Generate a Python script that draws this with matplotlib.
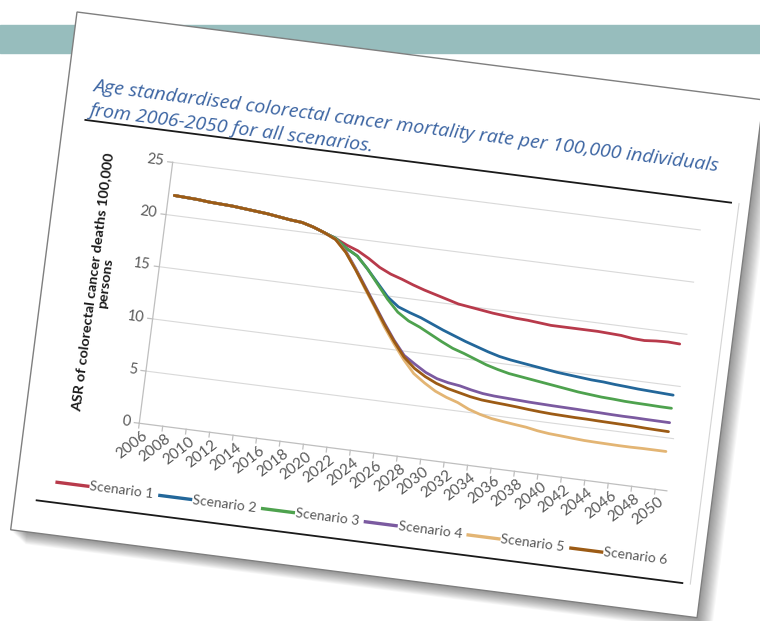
import numpy as np
import matplotlib.pyplot as plt
from matplotlib.patches import Rectangle
from matplotlib.transforms import Affine2D


years = list(range(2006, 2051))
tick_years = years[::2]
y_ticks = [0, 5, 10, 15, 20, 25]

# ASR per 100,000 (2006..2050)
early = [21.9, 21.85, 21.8, 21.7, 21.65, 21.6, 21.5, 21.4, 21.3, 21.15, 21.0, 20.9, 20.6, 20.2]
scenario_1 = early + [19.8, 19.3, 18.9, 18.3, 17.6, 17.1, 16.75, 16.35, 16.0, 15.7, 15.4, 15.1,
                      14.95, 14.8, 14.65, 14.55, 14.45, 14.4, 14.3, 14.2, 14.2, 14.2, 14.2, 14.2,
                      14.15, 14.1, 13.95, 13.9, 14.0, 14.05, 14.0]
scenario_2 = early + [19.8, 19.0, 18.4, 17.3, 16.1, 14.9, 14.1, 13.7, 13.35, 12.9, 12.45, 12.05,
                      11.65, 11.3, 10.95, 10.65, 10.45, 10.3, 10.15, 10.0, 9.85, 9.75, 9.65, 9.55,
                      9.5, 9.4, 9.33, 9.25, 9.2, 9.15, 9.1]
scenario_3 = early + [19.8, 19.0, 18.4, 17.3, 16.0, 14.7, 13.6, 12.9, 12.45, 11.9, 11.35, 10.85,
                      10.5, 10.1, 9.7, 9.4, 9.15, 9.0, 8.85, 8.7, 8.55, 8.4, 8.25, 8.15,
                      8.05, 8.0, 7.93, 7.9, 7.88, 7.85, 7.84]
scenario_4 = early + [19.7, 18.7, 17.2, 15.6, 14.0, 12.4, 10.9, 9.6, 8.9, 8.25, 7.8, 7.55,
                      7.4, 7.15, 6.95, 6.85, 6.8, 6.75, 6.7, 6.67, 6.64, 6.62, 6.6, 6.57,
                      6.55, 6.52, 6.5, 6.5, 6.48, 6.47, 6.46]
scenario_5 = early + [19.7, 18.6, 17.1, 15.4, 13.8, 12.1, 10.6, 9.2, 8.0, 7.25, 6.6, 6.15,
                      5.8, 5.3, 4.95, 4.7, 4.55, 4.42, 4.3, 4.1, 3.97, 3.9, 3.82, 3.75,
                      3.72, 3.7, 3.68, 3.68, 3.7, 3.7, 3.7]
scenario_6 = early + [19.7, 18.6, 17.1, 15.5, 13.9, 12.3, 10.8, 9.45, 8.5, 7.85, 7.35, 7.0,
                      6.75, 6.5, 6.33, 6.25, 6.18, 6.1, 6.0, 5.92, 5.86, 5.83, 5.8, 5.79,
                      5.76, 5.74, 5.72, 5.7, 5.65, 5.62, 5.6]

series = [
    ("Scenario 1", scenario_1, "#B83A4B"),
    ("Scenario 2", scenario_2, "#23679A"),
    ("Scenario 3", scenario_3, "#4EA24E"),
    ("Scenario 4", scenario_4, "#7B5AA0"),
    ("Scenario 5", scenario_5, "#E3B574"),
    ("Scenario 6", scenario_6, "#9C5B15"),
]

title_1 = "Age standardised colorectal cancer mortality rate per 100,000 individuals"
title_2 = "from 2006-2050 for all scenarios."
y_label = "ASR of colorectal cancer deaths 100,000\npersons"

# the slide card is tilted; everything inside it uses card-local pixels
ANGLE = 7.3
CARD_W, CARD_H = 692, 522
AX_U, AX_V = 114, 400          # plot origin inside the card
CAT_W, UNIT_H = 11.82, 10.52   # px per category / per unit

fig = plt.figure(figsize=(7.6, 6.21), dpi=100)
ax = fig.add_axes([0, 0, 1, 1])
ax.set_xlim(0, 760)
ax.set_ylim(621, 0)
ax.axis("off")

card = Affine2D().rotate_deg(ANGLE).translate(77, 12) + ax.transData
plot_tf = Affine2D().scale(CAT_W, -UNIT_H).translate(AX_U, AX_V) + card

# header band of the slide
ax.add_patch(Rectangle((0, 25), 760, 28, color="#97BDBD", zorder=0))

# soft shadow, then the card itself
for k in range(14):
    ax.add_patch(Rectangle((2 + k * 1.1, 2 + k * 0.8), CARD_W, CARD_H, transform=card,
                           facecolor="#000000", alpha=0.03, lw=0, zorder=1))
ax.add_patch(Rectangle((0, 0), CARD_W, CARD_H, transform=card, facecolor="white",
                       edgecolor="#7F7F7F", lw=1.0, zorder=2))

z = 3
ax.plot([681, 681], [106, 489.5], transform=card, color="#D4D4D4", lw=0.8, zorder=z)
ax.plot([22, 673], [106, 106], transform=card, color="#1A1A1A", lw=1.3, zorder=z)
ax.plot([22, 673], [489.5, 489.5], transform=card, color="#1A1A1A", lw=1.3, zorder=z)

title_kw = dict(transform=card, rotation=-ANGLE, rotation_mode="anchor", ha="left",
                va="baseline", fontsize=14, style="italic", family="Open Sans",
                color="#3B64A2", zorder=z)
ax.text(25, 76, title_1, **title_kw)
ax.text(25, 101, title_2, **title_kw)

# grid and axes
n = len(years)
for v in y_ticks[1:]:
    ax.plot([0, n], [v, v], transform=plot_tf, color="#D9D9D9", lw=0.8, zorder=z)
ax.plot([0, 0], [0, 25], transform=plot_tf, color="#BFBFBF", lw=0.9, zorder=z)
ax.plot([0, n], [0, 0], transform=plot_tf, color="#BFBFBF", lw=0.9, zorder=z)
for v in y_ticks:
    ax.plot([-0.42, 0], [v, v], transform=plot_tf, color="#BFBFBF", lw=0.9, zorder=z)
for k in range(0, n + 1, 2):
    ax.plot([k, k], [0, -0.45], transform=plot_tf, color="#BFBFBF", lw=0.9, zorder=z)

tick_kw = dict(transform=card, rotation_mode="anchor", family="Lato",
               color="#595959", zorder=z)
for v in y_ticks:
    ax.text(AX_U - 9, AX_V - v * UNIT_H, str(v), ha="right", va="center",
            rotation=-ANGLE, fontsize=10.5, **tick_kw)
for yr in tick_years:
    u = AX_U + (years.index(yr) + 0.5) * CAT_W
    ax.text(u + 2, AX_V + 10, str(yr), ha="right", va="center", rotation=45 - ANGLE,
            fontsize=11, **tick_kw)

ax.text(56, 266, y_label, transform=card, rotation=90 - ANGLE, rotation_mode="anchor",
        ha="center", va="center", multialignment="center", family="Lato",
        fontweight="bold", fontsize=10.4, color="#1A1A1A", linespacing=1.05, zorder=z)

x_pos = np.arange(n) + 0.5
for name, vals, col in series:
    ax.plot(x_pos, vals, transform=plot_tf, color=col, lw=2.0, zorder=4,
            solid_capstyle="round", solid_joinstyle="round")

# legend row
for k, (name, vals, col) in enumerate(series):
    u0 = 40 + k * 103.6
    ax.plot([u0, u0 + 31], [469, 469], transform=card, color=col, lw=2.4, zorder=z)
    ax.text(u0 + 33, 469, name, ha="left", va="center", rotation=-ANGLE, fontsize=10,
            **tick_kw)

fig.savefig("out.png", dpi=100)
